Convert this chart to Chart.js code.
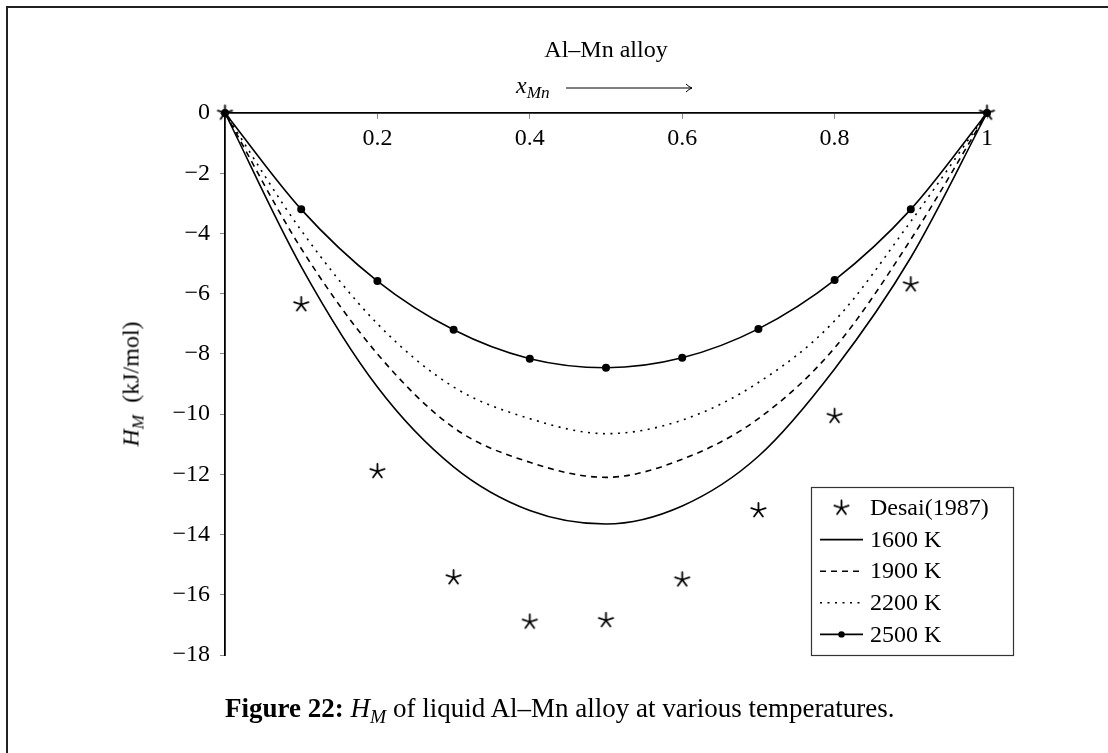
<!DOCTYPE html>
<html>
<head>
<meta charset="utf-8">
<script src="https://cdn.jsdelivr.net/npm/chart.js@4.4.0/dist/chart.umd.min.js"></script>
<style>
  html, body { margin: 0; padding: 0; background: #fff; overflow: hidden; }
  #wrap { position: relative; width: 1108px; height: 753px; overflow: hidden; }
  #frame { position: absolute; left: 6px; top: 6px; width: 1200px; height: 900px; border: 2px solid #222; box-sizing: border-box; }
  canvas { position: absolute; left: 0; top: 0; }
  .txt { position: absolute; font-family: 'Liberation Serif', serif; color: #000; white-space: nowrap; }
  .it { font-style: italic; }
  sub { font-size: 0.72em; vertical-align: -0.3em; line-height: 0; }
</style>
</head>
<body>
<div id="wrap">
  <div id="frame"></div>
  <canvas id="chart" width="1108" height="753"></canvas>
  <div class="txt" id="title" style="font-size:24px; left:606px; top:36px; transform:translateX(-50%);">Al–Mn alloy</div>
  <div class="txt" id="xlabel" style="font-size:24px; left:516px; top:72px;"><span class="it">x</span><sub class="it">Mn</sub></div>
  <div class="txt" id="ylabel" style="font-size:24px; left:131px; top:384px; transform:translate(-50%,-50%) rotate(-90deg);"><span class="it">H</span><sub class="it">M</sub>&nbsp; (kJ/mol)</div>
  <div class="txt" id="caption" style="font-size:27px; left:225px; top:693px;"><b>Figure 22:</b> <span class="it">H<sub>M</sub></span> of liquid Al–Mn alloy at various temperatures.</div>
</div>
<script>
// mole fraction of Mn
const xMn = [0, 0.1, 0.2, 0.3, 0.4, 0.5, 0.6, 0.7, 0.8, 0.9, 1];

// measured (Desai 1987), kJ/mol
const desai = [0, -6.36, -11.9, -15.43, -16.9, -16.85, -15.5, -13.2, -10.07, -5.7, 0];

// model curves, kJ/mol
const h1600 = [0, -5.1, -9.1, -11.75, -13.2, -13.65, -13.05, -11.4, -8.5, -4.8, 0];
const h1900 = [0, -4.5, -8.0, -10.45, -11.6, -12.1, -11.5, -10.15, -7.8, -4.2, 0];
const h2200 = [0, -3.9, -7.0, -9.1, -10.15, -10.65, -10.2, -8.95, -6.9, -3.6, 0];
const h2500 = [0, -3.2, -5.58, -7.2, -8.16, -8.46, -8.13, -7.17, -5.55, -3.2, 0];

const seriesLabels = ['Desai(1987)', '1600 K', '1900 K', '2200 K', '2500 K'];

const xTicks = { min: 0, max: 1, step: 0.2 };
const yTicks = { min: -18, max: 0, step: 2 };

const FONT = "'Liberation Serif', serif";

// 5-armed star like the pgfplots "star" mark
function makeStar(r) {
    const c = document.createElement('canvas');
    const s = Math.ceil(r * 2 + 4);
    c.width = s; c.height = s;
    const g = c.getContext('2d');
    g.strokeStyle = '#000';
    g.lineWidth = 1.8;
    g.lineCap = 'round';
    g.beginPath();
    for (let k = 0; k < 5; k++) {
        const a = -Math.PI / 2 + k * 2 * Math.PI / 5;
        g.moveTo(s / 2, s / 2);
        g.lineTo(s / 2 + r * Math.cos(a), s / 2 + r * Math.sin(a));
    }
    g.stroke();
    return c;
}
const starImg = makeStar(7.5);

const pts = (ys) => ys.map((y, i) => ({ x: xMn[i], y: y }));

const lineBase = {
    showLine: true,
    borderColor: '#000',
    backgroundColor: '#000',
    borderWidth: 1.6,
    pointRadius: 0,
    cubicInterpolationMode: 'monotone',
    clip: false
};

// legend drawn inside the plot, bottom right
const boxLegend = {
    id: 'boxLegend',
    afterDraw(chart) {
        const ctx = chart.ctx;
        const area = chart.chartArea;
        const w = 202, h = 168;
        const x0 = area.right + 26 - w;
        const y0 = area.bottom - h;
        ctx.save();
        ctx.fillStyle = '#fff';
        ctx.fillRect(x0, y0, w, h);
        ctx.strokeStyle = '#333';
        ctx.lineWidth = 1.2;
        ctx.strokeRect(x0 + 0.5, y0 + 0.5, w, h);

        const rowH = 31.6;
        const symL = x0 + 9, symR = x0 + 52, symC = (symL + symR) / 2;
        ctx.font = '24px ' + FONT;
        ctx.textBaseline = 'middle';
        ctx.fillStyle = '#000';
        chart.data.datasets.forEach((ds, i) => {
            const y = y0 + 21 + i * rowH;
            if (ds.showLine) {
                ctx.beginPath();
                ctx.setLineDash(ds.borderDash || []);
                ctx.lineWidth = ds.borderWidth;
                ctx.strokeStyle = '#000';
                ctx.moveTo(symL, y);
                ctx.lineTo(symR, y);
                ctx.stroke();
                ctx.setLineDash([]);
                if (ds.pointRadius > 0) {
                    ctx.beginPath();
                    ctx.arc(symC, y, ds.pointRadius, 0, Math.PI * 2);
                    ctx.fill();
                }
            } else {
                ctx.drawImage(starImg, symC - starImg.width / 2, y - starImg.height / 2);
            }
            ctx.fillText(ds.label, x0 + 59, y + 1);
        });
        ctx.restore();

        // arrow next to x_Mn
        const ay = 88;
        ctx.save();
        ctx.strokeStyle = '#000';
        ctx.lineWidth = 1;
        ctx.beginPath();
        ctx.moveTo(566, ay);
        ctx.lineTo(692, ay);
        ctx.moveTo(686, ay - 4);
        ctx.quadraticCurveTo(689, ay - 1, 692, ay);
        ctx.quadraticCurveTo(689, ay + 1, 686, ay + 4);
        ctx.stroke();
        ctx.restore();
    }
};

const Y_AXIS_W = 60;

const ctx = document.getElementById('chart').getContext('2d');
new Chart(ctx, {
    type: 'scatter',
    data: {
        datasets: [
            {
                label: seriesLabels[0],
                data: pts(desai),
                showLine: false,
                pointStyle: starImg,
                pointRadius: 7,
                clip: false
            },
            Object.assign({}, lineBase, { label: seriesLabels[1], data: pts(h1600) }),
            Object.assign({}, lineBase, { label: seriesLabels[2], data: pts(h1900), borderDash: [6, 5] }),
            Object.assign({}, lineBase, { label: seriesLabels[3], data: pts(h2200), borderDash: [2, 5.5] }),
            Object.assign({}, lineBase, { label: seriesLabels[4], data: pts(h2500), pointRadius: 3.2 })
        ]
    },
    options: {
        responsive: false,
        animation: false,
        layout: { padding: { left: 225 - Y_AXIS_W, top: 113, right: 121, bottom: 98 } },
        plugins: {
            legend: { display: false },
            tooltip: { enabled: false }
        },
        scales: {
            x: {
                type: 'linear',
                min: xTicks.min,
                max: xTicks.max,
                position: { y: 0 },
                grid: { drawOnChartArea: false, color: '#888', lineWidth: 1, tickLength: 5 },
                border: { color: '#000', width: 1.8 },
                ticks: {
                    stepSize: xTicks.step,
                    padding: 6,
                    color: '#000',
                    font: { family: FONT, size: 24 },
                    callback: (v) => v === 0 ? '' : String(Number(v.toFixed(1)))
                }
            },
            y: {
                type: 'linear',
                min: yTicks.min,
                max: yTicks.max,
                position: 'left',
                // fixed width so the y axis lands on x = 0 at pixel 225
                afterFit: (scale) => { scale.width = Y_AXIS_W; },
                grid: { drawOnChartArea: false, color: '#888', lineWidth: 1, tickLength: 5 },
                border: { color: '#000', width: 1.8 },
                ticks: {
                    stepSize: yTicks.step,
                    padding: 10,
                    color: '#000',
                    font: { family: FONT, size: 24 },
                    callback: (v) => v < 0 ? '\u2212' + Math.abs(v) : String(v)
                }
            }
        }
    },
    plugins: [boxLegend]
});
</script>
</body>
</html>
